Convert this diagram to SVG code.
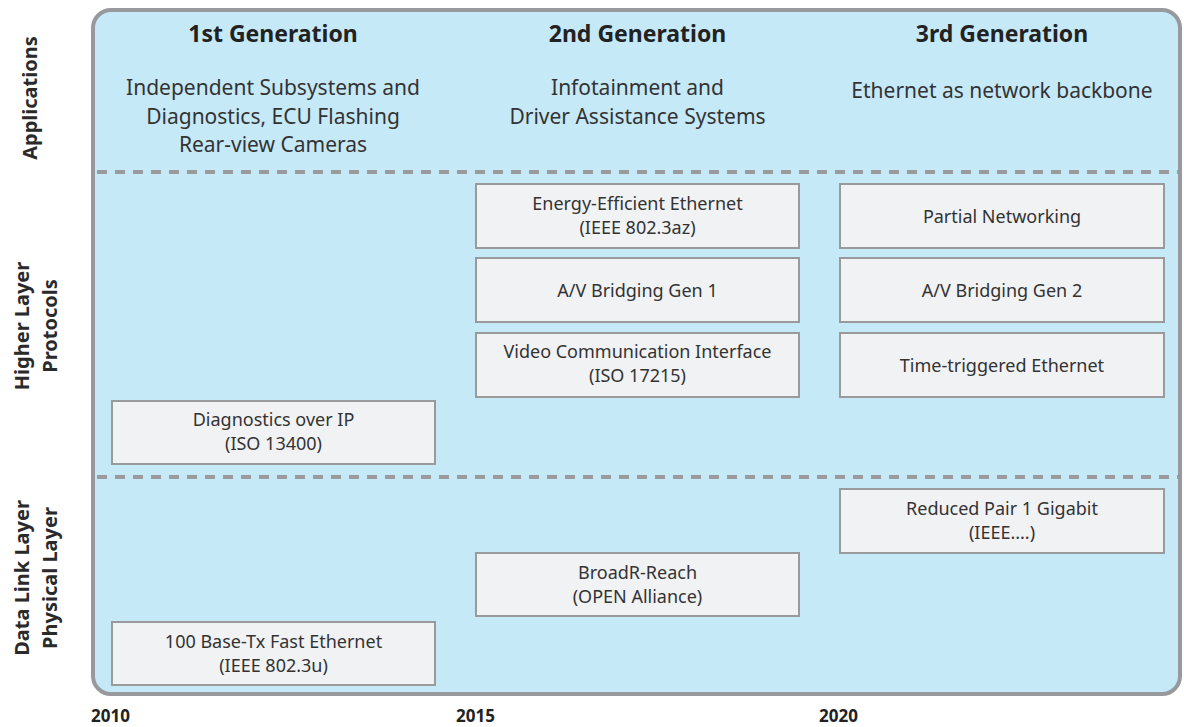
<svg xmlns="http://www.w3.org/2000/svg" width="1184" height="727" viewBox="0 0 1184 727">
  <style>
    .frame { fill: #c6e9f8; stroke: #98999c; stroke-width: 4; }
    .sep { stroke: #9a9a9c; stroke-width: 4; stroke-dasharray: 10 8; fill: none; }
    .box { fill: #f1f2f4; stroke: #9a9a9c; stroke-width: 2; }
    .t { font-family: "Noto Sans", "Liberation Sans", sans-serif; fill: #333; text-anchor: middle; }
    .box-t { font-size: 18px; }
    .sub { font-size: 21px; }
    .gen { font-size: 23px; font-weight: bold; fill: #222; }
    .lane { font-size: 20px; font-weight: bold; fill: #2a2a2a; }
    .year { font-family: "Noto Sans", "Liberation Sans", sans-serif; font-size: 17px; font-weight: bold; fill: #222; }
  </style>

  <!-- background panel -->
  <rect class="frame" x="93" y="10" width="1087" height="684" rx="18" ry="18"/>

  <!-- layer separators -->
  <g id="connectors">
    <line class="sep" x1="97" y1="172" x2="1178" y2="172"/>
    <line class="sep" x1="97" y1="477" x2="1178" y2="477"/>
  </g>

  <!-- layer labels -->
  <g id="lane-applications">
    <text class="t lane" transform="translate(37,98) rotate(-90)">Applications</text>
  </g>
  <g id="lane-higher">
    <text class="t lane" transform="translate(29,326) rotate(-90)">Higher Layer</text>
    <text class="t lane" transform="translate(57,326) rotate(-90)">Protocols</text>
  </g>
  <g id="lane-datalink">
    <text class="t lane" transform="translate(29,578) rotate(-90)">Data Link Layer</text>
    <text class="t lane" transform="translate(57,578) rotate(-90)">Physical Layer</text>
  </g>

  <!-- generation headers -->
  <g id="gen1">
    <text class="t gen" x="273" y="42">1st Generation</text>
    <text class="t sub" x="273" y="95">Independent Subsystems and</text>
    <text class="t sub" x="273" y="123.5">Diagnostics, ECU Flashing</text>
    <text class="t sub" x="273" y="152">Rear-view Cameras</text>
  </g>
  <g id="gen2">
    <text class="t gen" x="637.5" y="42">2nd Generation</text>
    <text class="t sub" x="637.5" y="95">Infotainment and</text>
    <text class="t sub" x="637.5" y="123.5">Driver Assistance Systems</text>
  </g>
  <g id="gen3">
    <text class="t gen" x="1002" y="42">3rd Generation</text>
    <text class="t sub" x="1002" y="98">Ethernet as network backbone</text>
  </g>

  <!-- higher layer protocols -->
  <g id="eee">
    <rect class="box" x="476" y="184" width="323" height="64"/>
    <text class="t box-t" x="637.5" y="210">Energy-Efficient Ethernet</text>
    <text class="t box-t" x="637.5" y="234">(IEEE 802.3az)</text>
  </g>
  <g id="avb1">
    <rect class="box" x="476" y="258" width="323" height="64"/>
    <text class="t box-t" x="637.5" y="297">A/V Bridging Gen 1</text>
  </g>
  <g id="vci">
    <rect class="box" x="476" y="333" width="323" height="64"/>
    <text class="t box-t" x="637.5" y="358">Video Communication Interface</text>
    <text class="t box-t" x="637.5" y="382">(ISO 17215)</text>
  </g>
  <g id="pn">
    <rect class="box" x="840" y="184" width="324" height="64"/>
    <text class="t box-t" x="1002" y="223">Partial Networking</text>
  </g>
  <g id="avb2">
    <rect class="box" x="840" y="258" width="324" height="64"/>
    <text class="t box-t" x="1002" y="297">A/V Bridging Gen 2</text>
  </g>
  <g id="tte">
    <rect class="box" x="840" y="333" width="324" height="64"/>
    <text class="t box-t" x="1002" y="372">Time-triggered Ethernet</text>
  </g>
  <g id="doip">
    <rect class="box" x="112" y="401" width="323" height="63"/>
    <text class="t box-t" x="273.5" y="426">Diagnostics over IP</text>
    <text class="t box-t" x="273.5" y="450">(ISO 13400)</text>
  </g>

  <!-- data link / physical layer -->
  <g id="rpg">
    <rect class="box" x="840" y="489" width="324" height="64"/>
    <text class="t box-t" x="1002" y="515">Reduced Pair 1 Gigabit</text>
    <text class="t box-t" x="1002" y="539">(IEEE....)</text>
  </g>
  <g id="broadr">
    <rect class="box" x="476" y="553" width="323" height="63"/>
    <text class="t box-t" x="637.5" y="579">BroadR-Reach</text>
    <text class="t box-t" x="637.5" y="603">(OPEN Alliance)</text>
  </g>
  <g id="fe100">
    <rect class="box" x="112" y="622" width="323" height="63"/>
    <text class="t box-t" x="273.5" y="648">100 Base-Tx Fast Ethernet</text>
    <text class="t box-t" x="273.5" y="672">(IEEE 802.3u)</text>
  </g>

  <!-- timeline -->
  <g id="years">
    <text class="year" x="91" y="722">2010</text>
    <text class="year" x="456" y="722">2015</text>
    <text class="year" x="819" y="722">2020</text>
  </g>
</svg>
